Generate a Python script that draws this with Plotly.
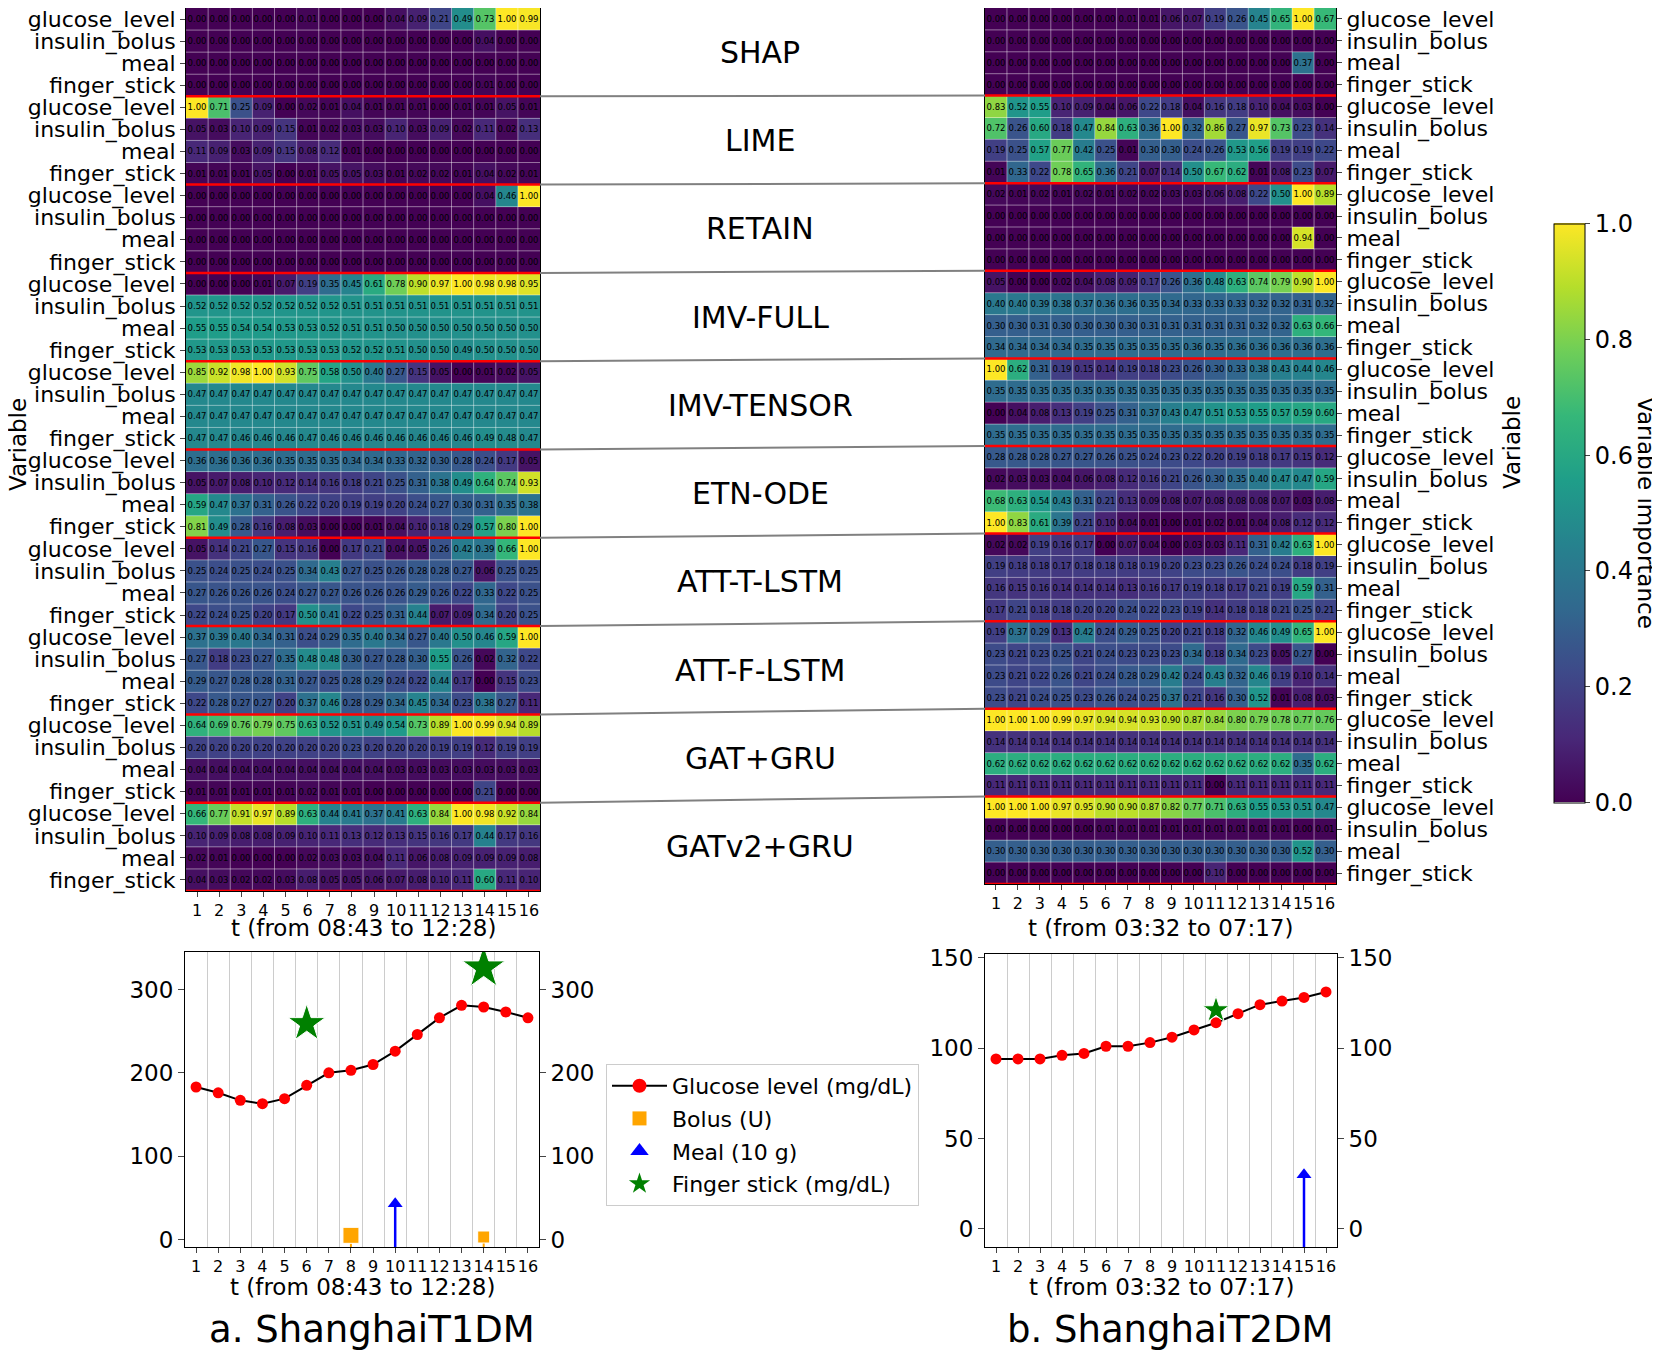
import plotly.graph_objects as go

W, H = 1660, 1351

# ==================== Data ====================
variables = ["glucose_level", "insulin_bolus", "meal", "finger_stick"]
methods = ["SHAP", "LIME", "RETAIN", "IMV-FULL", "IMV-TENSOR",
           "ETN-ODE", "ATT-T-LSTM", "ATT-F-LSTM", "GAT+GRU", "GATv2+GRU"]
steps = list(range(1, 17))

# ShanghaiT1DM variable importance, one block of 4 rows per method
t1_shap = [
    [0.00, 0.00, 0.00, 0.00, 0.00, 0.01, 0.00, 0.00, 0.00, 0.04, 0.09, 0.21, 0.49, 0.73, 1.00, 0.99],
    [0.00, 0.00, 0.00, 0.00, 0.00, 0.00, 0.00, 0.00, 0.00, 0.00, 0.00, 0.00, 0.00, 0.04, 0.00, 0.00],
    [0.00, 0.00, 0.00, 0.00, 0.00, 0.00, 0.00, 0.00, 0.00, 0.00, 0.00, 0.00, 0.00, 0.00, 0.00, 0.00],
    [0.00, 0.00, 0.00, 0.00, 0.00, 0.00, 0.00, 0.00, 0.00, 0.00, 0.00, 0.00, 0.00, 0.01, 0.00, 0.00],
]
t1_lime = [
    [1.00, 0.71, 0.25, 0.09, 0.00, 0.02, 0.01, 0.04, 0.01, 0.01, 0.01, 0.00, 0.01, 0.01, 0.05, 0.01],
    [0.05, 0.03, 0.10, 0.09, 0.15, 0.01, 0.02, 0.03, 0.03, 0.10, 0.03, 0.09, 0.02, 0.11, 0.02, 0.13],
    [0.11, 0.09, 0.03, 0.09, 0.15, 0.08, 0.12, 0.01, 0.00, 0.00, 0.00, 0.00, 0.00, 0.00, 0.00, 0.00],
    [0.01, 0.01, 0.01, 0.05, 0.00, 0.01, 0.05, 0.05, 0.03, 0.01, 0.02, 0.02, 0.01, 0.04, 0.02, 0.01],
]
t1_retain = [
    [0.00, 0.00, 0.00, 0.00, 0.00, 0.00, 0.00, 0.00, 0.00, 0.00, 0.00, 0.00, 0.00, 0.04, 0.46, 1.00],
    [0.00, 0.00, 0.00, 0.00, 0.00, 0.00, 0.00, 0.00, 0.00, 0.00, 0.00, 0.00, 0.00, 0.00, 0.00, 0.00],
    [0.00, 0.00, 0.00, 0.00, 0.00, 0.00, 0.00, 0.00, 0.00, 0.00, 0.00, 0.00, 0.00, 0.00, 0.00, 0.00],
    [0.00, 0.00, 0.00, 0.00, 0.00, 0.00, 0.00, 0.00, 0.00, 0.00, 0.00, 0.00, 0.00, 0.00, 0.00, 0.00],
]
t1_imv_full = [
    [0.00, 0.00, 0.00, 0.01, 0.07, 0.19, 0.35, 0.45, 0.61, 0.78, 0.90, 0.97, 1.00, 0.98, 0.98, 0.95],
    [0.52, 0.52, 0.52, 0.52, 0.52, 0.52, 0.52, 0.51, 0.51, 0.51, 0.51, 0.51, 0.51, 0.51, 0.51, 0.51],
    [0.55, 0.55, 0.54, 0.54, 0.53, 0.53, 0.52, 0.51, 0.51, 0.50, 0.50, 0.50, 0.50, 0.50, 0.50, 0.50],
    [0.53, 0.53, 0.53, 0.53, 0.53, 0.53, 0.53, 0.52, 0.52, 0.51, 0.50, 0.50, 0.49, 0.50, 0.50, 0.50],
]
t1_imv_tensor = [
    [0.85, 0.92, 0.98, 1.00, 0.93, 0.75, 0.58, 0.50, 0.40, 0.27, 0.15, 0.05, 0.00, 0.01, 0.02, 0.05],
    [0.47, 0.47, 0.47, 0.47, 0.47, 0.47, 0.47, 0.47, 0.47, 0.47, 0.47, 0.47, 0.47, 0.47, 0.47, 0.47],
    [0.47, 0.47, 0.47, 0.47, 0.47, 0.47, 0.47, 0.47, 0.47, 0.47, 0.47, 0.47, 0.47, 0.47, 0.47, 0.47],
    [0.47, 0.47, 0.46, 0.46, 0.46, 0.47, 0.46, 0.46, 0.46, 0.46, 0.46, 0.46, 0.46, 0.49, 0.48, 0.47],
]
t1_etn_ode = [
    [0.36, 0.36, 0.36, 0.36, 0.35, 0.35, 0.35, 0.34, 0.34, 0.33, 0.32, 0.30, 0.28, 0.24, 0.17, 0.05],
    [0.05, 0.07, 0.08, 0.10, 0.12, 0.14, 0.16, 0.18, 0.21, 0.25, 0.31, 0.38, 0.49, 0.64, 0.74, 0.93],
    [0.59, 0.47, 0.37, 0.31, 0.26, 0.22, 0.20, 0.19, 0.19, 0.20, 0.24, 0.27, 0.30, 0.31, 0.35, 0.38],
    [0.81, 0.49, 0.28, 0.16, 0.08, 0.03, 0.00, 0.00, 0.01, 0.04, 0.10, 0.18, 0.29, 0.57, 0.80, 1.00],
]
t1_att_t = [
    [0.05, 0.14, 0.21, 0.27, 0.15, 0.16, 0.00, 0.17, 0.21, 0.04, 0.05, 0.26, 0.42, 0.39, 0.66, 1.00],
    [0.25, 0.24, 0.25, 0.24, 0.25, 0.34, 0.43, 0.27, 0.25, 0.26, 0.28, 0.28, 0.27, 0.06, 0.25, 0.25],
    [0.27, 0.26, 0.26, 0.26, 0.24, 0.27, 0.27, 0.26, 0.26, 0.26, 0.29, 0.26, 0.22, 0.33, 0.22, 0.25],
    [0.22, 0.24, 0.25, 0.20, 0.17, 0.50, 0.41, 0.22, 0.25, 0.31, 0.44, 0.07, 0.09, 0.34, 0.20, 0.25],
]
t1_att_f = [
    [0.37, 0.39, 0.40, 0.34, 0.31, 0.24, 0.29, 0.35, 0.40, 0.34, 0.27, 0.40, 0.50, 0.46, 0.59, 1.00],
    [0.27, 0.18, 0.23, 0.27, 0.35, 0.48, 0.48, 0.30, 0.27, 0.28, 0.30, 0.55, 0.26, 0.02, 0.32, 0.22],
    [0.29, 0.27, 0.28, 0.28, 0.31, 0.27, 0.25, 0.28, 0.29, 0.24, 0.22, 0.44, 0.17, 0.00, 0.15, 0.23],
    [0.22, 0.28, 0.27, 0.27, 0.20, 0.37, 0.46, 0.28, 0.29, 0.34, 0.45, 0.34, 0.23, 0.38, 0.27, 0.11],
]
t1_gat = [
    [0.64, 0.69, 0.76, 0.79, 0.75, 0.63, 0.52, 0.51, 0.49, 0.54, 0.73, 0.89, 1.00, 0.99, 0.94, 0.89],
    [0.20, 0.20, 0.20, 0.20, 0.20, 0.20, 0.20, 0.23, 0.20, 0.20, 0.20, 0.19, 0.19, 0.12, 0.19, 0.19],
    [0.04, 0.04, 0.04, 0.04, 0.04, 0.04, 0.04, 0.04, 0.04, 0.03, 0.03, 0.03, 0.03, 0.03, 0.03, 0.03],
    [0.01, 0.01, 0.01, 0.01, 0.01, 0.02, 0.01, 0.01, 0.00, 0.00, 0.00, 0.00, 0.00, 0.21, 0.00, 0.00],
]
t1_gatv2 = [
    [0.66, 0.77, 0.91, 0.97, 0.89, 0.63, 0.44, 0.41, 0.37, 0.41, 0.63, 0.84, 1.00, 0.98, 0.92, 0.84],
    [0.10, 0.09, 0.08, 0.08, 0.09, 0.10, 0.11, 0.13, 0.12, 0.13, 0.15, 0.16, 0.17, 0.44, 0.17, 0.16],
    [0.02, 0.01, 0.00, 0.00, 0.00, 0.02, 0.03, 0.03, 0.04, 0.11, 0.06, 0.08, 0.09, 0.09, 0.09, 0.08],
    [0.04, 0.03, 0.02, 0.02, 0.03, 0.08, 0.05, 0.05, 0.06, 0.07, 0.08, 0.10, 0.11, 0.60, 0.11, 0.10],
]

# ShanghaiT2DM variable importance
t2_shap = [
    [0.00, 0.00, 0.00, 0.00, 0.00, 0.00, 0.01, 0.01, 0.06, 0.07, 0.19, 0.26, 0.45, 0.65, 1.00, 0.67],
    [0.00, 0.00, 0.00, 0.00, 0.00, 0.00, 0.00, 0.00, 0.00, 0.00, 0.00, 0.00, 0.00, 0.00, 0.00, 0.00],
    [0.00, 0.00, 0.00, 0.00, 0.00, 0.00, 0.00, 0.00, 0.00, 0.00, 0.00, 0.00, 0.00, 0.00, 0.37, 0.00],
    [0.00, 0.00, 0.00, 0.00, 0.00, 0.00, 0.00, 0.00, 0.00, 0.00, 0.00, 0.00, 0.00, 0.00, 0.00, 0.00],
]
t2_lime = [
    [0.83, 0.52, 0.55, 0.10, 0.09, 0.04, 0.06, 0.22, 0.18, 0.04, 0.16, 0.18, 0.10, 0.04, 0.03, 0.00],
    [0.72, 0.26, 0.60, 0.18, 0.47, 0.84, 0.63, 0.36, 1.00, 0.32, 0.86, 0.27, 0.97, 0.73, 0.23, 0.14],
    [0.19, 0.25, 0.57, 0.77, 0.42, 0.25, 0.01, 0.30, 0.30, 0.24, 0.26, 0.53, 0.56, 0.19, 0.19, 0.22],
    [0.01, 0.33, 0.22, 0.78, 0.65, 0.36, 0.21, 0.07, 0.14, 0.50, 0.67, 0.62, 0.01, 0.08, 0.23, 0.07],
]
t2_retain = [
    [0.02, 0.01, 0.02, 0.01, 0.02, 0.01, 0.02, 0.02, 0.03, 0.03, 0.06, 0.08, 0.22, 0.50, 1.00, 0.89],
    [0.00, 0.00, 0.00, 0.00, 0.00, 0.00, 0.00, 0.00, 0.00, 0.00, 0.00, 0.00, 0.00, 0.00, 0.00, 0.00],
    [0.00, 0.00, 0.00, 0.00, 0.00, 0.00, 0.00, 0.00, 0.00, 0.00, 0.00, 0.00, 0.00, 0.00, 0.94, 0.00],
    [0.00, 0.00, 0.00, 0.00, 0.00, 0.00, 0.00, 0.00, 0.00, 0.00, 0.00, 0.00, 0.00, 0.00, 0.00, 0.00],
]
t2_imv_full = [
    [0.05, 0.00, 0.00, 0.02, 0.04, 0.08, 0.09, 0.17, 0.26, 0.36, 0.48, 0.63, 0.74, 0.79, 0.90, 1.00],
    [0.40, 0.40, 0.39, 0.38, 0.37, 0.36, 0.36, 0.35, 0.34, 0.33, 0.33, 0.33, 0.32, 0.32, 0.31, 0.32],
    [0.30, 0.30, 0.31, 0.30, 0.30, 0.30, 0.30, 0.31, 0.31, 0.31, 0.31, 0.31, 0.32, 0.32, 0.63, 0.66],
    [0.34, 0.34, 0.34, 0.34, 0.35, 0.35, 0.35, 0.35, 0.35, 0.36, 0.35, 0.36, 0.36, 0.36, 0.36, 0.36],
]
t2_imv_tensor = [
    [1.00, 0.62, 0.31, 0.19, 0.15, 0.14, 0.19, 0.18, 0.23, 0.26, 0.30, 0.33, 0.38, 0.43, 0.44, 0.46],
    [0.35, 0.35, 0.35, 0.35, 0.35, 0.35, 0.35, 0.35, 0.35, 0.35, 0.35, 0.35, 0.35, 0.35, 0.35, 0.35],
    [0.00, 0.04, 0.08, 0.13, 0.19, 0.25, 0.31, 0.37, 0.43, 0.47, 0.51, 0.53, 0.55, 0.57, 0.59, 0.60],
    [0.35, 0.35, 0.35, 0.35, 0.35, 0.35, 0.35, 0.35, 0.35, 0.35, 0.35, 0.35, 0.35, 0.35, 0.35, 0.35],
]
t2_etn_ode = [
    [0.28, 0.28, 0.28, 0.27, 0.27, 0.26, 0.25, 0.24, 0.23, 0.22, 0.20, 0.19, 0.18, 0.17, 0.15, 0.12],
    [0.02, 0.03, 0.03, 0.04, 0.06, 0.08, 0.12, 0.16, 0.21, 0.26, 0.30, 0.35, 0.40, 0.47, 0.47, 0.59],
    [0.68, 0.63, 0.54, 0.43, 0.31, 0.21, 0.13, 0.09, 0.08, 0.07, 0.08, 0.08, 0.08, 0.07, 0.03, 0.08],
    [1.00, 0.83, 0.61, 0.39, 0.21, 0.10, 0.04, 0.01, 0.00, 0.01, 0.02, 0.01, 0.04, 0.08, 0.12, 0.12],
]
t2_att_t = [
    [0.02, 0.02, 0.19, 0.16, 0.17, 0.00, 0.07, 0.04, 0.00, 0.03, 0.03, 0.11, 0.31, 0.42, 0.63, 1.00],
    [0.19, 0.18, 0.18, 0.17, 0.18, 0.18, 0.18, 0.19, 0.20, 0.23, 0.23, 0.26, 0.24, 0.24, 0.18, 0.19],
    [0.16, 0.15, 0.16, 0.14, 0.14, 0.14, 0.13, 0.16, 0.17, 0.19, 0.18, 0.17, 0.21, 0.19, 0.59, 0.31],
    [0.17, 0.21, 0.18, 0.18, 0.20, 0.20, 0.24, 0.22, 0.23, 0.19, 0.14, 0.18, 0.18, 0.21, 0.25, 0.21],
]
t2_att_f = [
    [0.19, 0.37, 0.29, 0.13, 0.42, 0.24, 0.29, 0.25, 0.20, 0.21, 0.18, 0.32, 0.46, 0.49, 0.65, 1.00],
    [0.23, 0.21, 0.23, 0.25, 0.21, 0.24, 0.23, 0.23, 0.23, 0.34, 0.18, 0.34, 0.23, 0.05, 0.27, 0.00],
    [0.23, 0.21, 0.22, 0.26, 0.21, 0.24, 0.28, 0.29, 0.42, 0.24, 0.43, 0.32, 0.46, 0.19, 0.10, 0.14],
    [0.23, 0.21, 0.24, 0.25, 0.23, 0.26, 0.24, 0.25, 0.37, 0.21, 0.16, 0.30, 0.52, 0.01, 0.08, 0.03],
]
t2_gat = [
    [1.00, 1.00, 1.00, 0.99, 0.97, 0.94, 0.94, 0.93, 0.90, 0.87, 0.84, 0.80, 0.79, 0.78, 0.77, 0.76],
    [0.14, 0.14, 0.14, 0.14, 0.14, 0.14, 0.14, 0.14, 0.14, 0.14, 0.14, 0.14, 0.14, 0.14, 0.14, 0.14],
    [0.62, 0.62, 0.62, 0.62, 0.62, 0.62, 0.62, 0.62, 0.62, 0.62, 0.62, 0.62, 0.62, 0.62, 0.35, 0.62],
    [0.11, 0.11, 0.11, 0.11, 0.11, 0.11, 0.11, 0.11, 0.11, 0.11, 0.00, 0.11, 0.11, 0.11, 0.11, 0.11],
]
t2_gatv2 = [
    [1.00, 1.00, 1.00, 0.97, 0.95, 0.90, 0.90, 0.87, 0.82, 0.77, 0.71, 0.63, 0.55, 0.53, 0.51, 0.47],
    [0.00, 0.00, 0.00, 0.00, 0.00, 0.01, 0.01, 0.01, 0.01, 0.01, 0.01, 0.01, 0.01, 0.01, 0.00, 0.01],
    [0.30, 0.30, 0.30, 0.30, 0.30, 0.30, 0.30, 0.30, 0.30, 0.30, 0.30, 0.30, 0.30, 0.30, 0.52, 0.30],
    [0.00, 0.00, 0.00, 0.00, 0.00, 0.00, 0.00, 0.00, 0.00, 0.00, 0.10, 0.00, 0.00, 0.00, 0.00, 0.00],
]

# Raw signals for the two example windows
t1_glucose = [183, 176, 167, 163, 169, 185, 200, 203, 210, 226, 246, 266, 281, 279, 273, 266]
t1_bolus_t = [8, 14]
t1_bolus = [5, 3]
t1_meal_t = [10]
t1_meal = [43]
t1_finger_t = [6, 14]
t1_finger = [259, 326]

t2_glucose = [94, 94, 94, 96, 97, 101, 101, 103, 106, 110, 114, 119, 124, 126, 128, 131]
t2_bolus_t = []
t2_bolus = []
t2_meal_t = [15]
t2_meal = [30]
t2_finger_t = [11]
t2_finger = [121]

t1_blocks = [t1_shap, t1_lime, t1_retain, t1_imv_full, t1_imv_tensor,
             t1_etn_ode, t1_att_t, t1_att_f, t1_gat, t1_gatv2]
t2_blocks = [t2_shap, t2_lime, t2_retain, t2_imv_full, t2_imv_tensor,
             t2_etn_ode, t2_att_t, t2_att_f, t2_gat, t2_gatv2]
t1_z = [row for block in t1_blocks for row in block]
t2_z = [row for block in t2_blocks for row in block]
n_rows = len(t1_z)

# the page body adds an 8px margin, so positions are shifted back by that much
OFF = 8


def px_x(v):
    return max(0.0, (v - OFF) / W)


def px_y(v):
    return min(1.0, 1 - (v - OFF) / H)


# ==================== Panel positions ====================
hm1_x = [px_x(186), px_x(540)]
hm1_y = [px_y(891), px_y(6)]
hm2_x = [px_x(985), px_x(1336)]
hm2_y = [px_y(884), px_y(6)]
ln1_x = [px_x(185), px_x(539)]
ln1_y = [px_y(1247), px_y(952)]
ln2_x = [px_x(985), px_x(1337)]
ln2_y = [px_y(1247), px_y(954)]
ln1_range = [-9, 345]
ln2_range = [-10, 152]

FONT = "DejaVu Sans"
fig = go.Figure()

# ==================== Heatmaps ====================
fig.add_trace(go.Heatmap(
    z=t1_z, x=steps, y=list(range(n_rows)),
    colorscale="Viridis", zmin=0, zmax=1, showscale=False,
    texttemplate="%{z:.2f}", textfont=dict(size=8.5, color="black", family=FONT),
    hoverinfo="skip", xaxis="x", yaxis="y"
))
fig.add_trace(go.Heatmap(
    z=t2_z, x=steps, y=list(range(n_rows)),
    colorscale="Viridis", zmin=0, zmax=1,
    texttemplate="%{z:.2f}", textfont=dict(size=8.5, color="black", family=FONT),
    hoverinfo="skip", xaxis="x2", yaxis="y2",
    colorbar=dict(
        x=px_x(1554), xanchor="left", y=px_y(513), yanchor="middle",
        len=599 / H, lenmode="fraction", thickness=31, ypad=10, xpad=0,
        tickvals=[0, 0.2, 0.4, 0.6, 0.8, 1.0],
        ticktext=["0.0", "0.2", "0.4", "0.6", "0.8", "1.0"],
        ticks="outside", ticklen=5, tickfont=dict(size=24, family=FONT),
        outlinewidth=1, outlinecolor="black"
    )
))


# ==================== Line charts ====================
def stems(xs, ys, base):
    sx, sy = [], []
    for xv, yv in zip(xs, ys):
        sx += [xv, xv, None]
        sy += [base, yv, None]
    return sx, sy


def add_signal(glucose, bolus_t, bolus, meal_t, meal, finger_t, finger,
               xa, ya, ya_right, base, bolus_sizes, star_sizes):
    bx, by = stems(bolus_t, bolus, base)
    fig.add_trace(go.Scatter(x=bx, y=by, mode="lines", line=dict(color="orange", width=2),
                             showlegend=False, hoverinfo="skip", xaxis=xa, yaxis=ya))
    mx, my = stems(meal_t, meal, base)
    fig.add_trace(go.Scatter(x=mx, y=my, mode="lines", line=dict(color="blue", width=2.5),
                             showlegend=False, hoverinfo="skip", xaxis=xa, yaxis=ya))
    fig.add_trace(go.Scatter(
        x=steps, y=glucose, mode="lines+markers",
        line=dict(color="black", width=2), marker=dict(color="red", size=11),
        showlegend=False, xaxis=xa, yaxis=ya))
    fig.add_trace(go.Scatter(
        x=bolus_t, y=bolus, mode="markers",
        marker=dict(symbol="square", color="orange", size=bolus_sizes, opacity=1),
        showlegend=False, xaxis=xa, yaxis=ya))
    fig.add_trace(go.Scatter(
        x=meal_t, y=meal, mode="markers",
        marker=dict(symbol="triangle-up", color="blue", size=13, opacity=1),
        showlegend=False, xaxis=xa, yaxis=ya))
    fig.add_trace(go.Scatter(
        x=finger_t, y=finger, mode="markers",
        marker=dict(symbol="star", color="green", size=star_sizes, opacity=1),
        showlegend=False, xaxis=xa, yaxis=ya))
    # twin axis on the right
    fig.add_trace(go.Scatter(x=steps, y=glucose, mode="markers", marker=dict(opacity=0),
                             showlegend=False, hoverinfo="skip", xaxis=xa, yaxis=ya_right))


add_signal(t1_glucose, t1_bolus_t, t1_bolus, t1_meal_t, t1_meal, t1_finger_t, t1_finger,
           "x3", "y3", "y4", ln1_range[0], [16, 12], [28, 32])
add_signal(t2_glucose, t2_bolus_t, t2_bolus, t2_meal_t, t2_meal, t2_finger_t, t2_finger,
           "x4", "y5", "y6", ln2_range[0], [12], [20])

# legend entries
legend_items = [
    ("Glucose level (mg/dL)", "lines+markers", dict(color="red", size=14, symbol="circle")),
    ("Bolus (U)", "markers", dict(color="orange", size=14, symbol="square")),
    ("Meal (10 g)", "markers", dict(color="blue", size=16, symbol="triangle-up")),
    ("Finger stick (mg/dL)", "markers", dict(color="green", size=16, symbol="star")),
]
for name, mode, mk in legend_items:
    fig.add_trace(go.Scatter(x=[None], y=[None], mode=mode, name=name, marker=mk,
                             legendgroup=name, line=dict(color="black", width=2),
                             xaxis="x3", yaxis="y3"))

# ==================== Shapes ====================
shapes = []
for xa, ya in (("x", "y"), ("x2", "y2")):
    for k in range(1, len(steps)):
        shapes.append(dict(type="line", xref=xa, yref=ya, x0=k + 0.5, x1=k + 0.5,
                           y0=-0.5, y1=n_rows - 0.5, layer="above",
                           line=dict(color="rgba(255,255,255,0.45)", width=1)))
    for r in range(n_rows - 1):
        shapes.append(dict(type="line", xref=xa, yref=ya, x0=0.5, x1=len(steps) + 0.5,
                           y0=r + 0.5, y1=r + 0.5, layer="above",
                           line=dict(color="rgba(255,255,255,0.45)", width=1)))
    for g in range(1, len(methods) + 1):
        b = g * len(variables) - 0.5
        shapes.append(dict(type="line", xref=xa, yref=ya, x0=0.5, x1=len(steps) + 0.5,
                           y0=b, y1=b, layer="above", line=dict(color="red", width=2.5)))


def row_paper(dom, pos):
    return dom[1] - (pos + 0.5) / n_rows * (dom[1] - dom[0])


for g in range(1, len(methods)):
    b = g * len(variables) - 0.5
    shapes.append(dict(type="line", xref="paper", yref="paper",
                       x0=hm1_x[1], x1=hm2_x[0],
                       y0=row_paper(hm1_y, b), y1=row_paper(hm2_y, b),
                       line=dict(color="gray", width=2)))


# ==================== Annotations ====================
def label(text, x, y, size, angle=0):
    return dict(text=text, xref="paper", yref="paper", x=x, y=y, xanchor="center",
                yanchor="middle", textangle=angle, showarrow=False, font=dict(size=size))


annotations = [label(name, px_x(760), row_paper(hm1_y, g * 4 + 1.5), 30)
               for g, name in enumerate(methods)]
annotations += [
    label("Variable", 10 / W, px_y(445), 23, -90),
    label("Variable", px_x(1512), px_y(443), 23, -90),
    label("Variable importance", px_x(1646), px_y(513), 23, 90),
    label("t (from 08:43 to 12:28)", px_x(363), px_y(928), 23),
    label("t (from 03:32 to 07:17)", px_x(1160), px_y(928), 23),
    label("t (from 08:43 to 12:28)", px_x(362), px_y(1287), 23),
    label("t (from 03:32 to 07:17)", px_x(1161), px_y(1287), 23),
    label("a. ShanghaiT1DM", px_x(372), px_y(1329), 37),
    label("b. ShanghaiT2DM", px_x(1170), px_y(1329), 37),
]

# ==================== Layout Settings ====================
heat_x = dict(range=[0.5, 16.5], tickmode="array", tickvals=steps, ticks="outside", ticklen=5,
              tickangle=0, tickfont=dict(size=16), showline=True, mirror=True,
              linecolor="black", showgrid=False, zeroline=False, automargin=False)
heat_y = dict(range=[n_rows - 0.5, -0.5], tickmode="array", tickvals=list(range(n_rows)),
              ticktext=variables * len(methods), ticks="outside", ticklen=5,
              tickfont=dict(size=22), showline=True, mirror=True, linecolor="black",
              showgrid=False, zeroline=False, automargin=False, ticklabeloverflow="allow")
line_x = dict(range=[0.5, 16.5], tickmode="array", tickvals=steps, ticks="outside", ticklen=5,
              tickangle=0, tickfont=dict(size=16), showline=True, mirror=True,
              linecolor="black", showgrid=False, zeroline=False, automargin=False,
              minor=dict(tick0=0.5, dtick=1, showgrid=True, gridcolor="#cccccc", gridwidth=1))


def line_y(rng, vals, **kw):
    d = dict(range=rng, tickmode="array", tickvals=vals, ticks="outside", ticklen=6,
             tickfont=dict(size=23), showline=True, linecolor="black",
             showgrid=False, zeroline=False, automargin=False)
    d.update(kw)
    return d


fig.update_layout(
    width=W, height=H, autosize=False,
    margin=dict(l=0, r=0, t=0, b=0, pad=0),
    paper_bgcolor="white", plot_bgcolor="white",
    font=dict(family=FONT, color="black"),
    xaxis=dict(heat_x, domain=hm1_x, anchor="y"),
    yaxis=dict(heat_y, domain=hm1_y, anchor="x"),
    xaxis2=dict(heat_x, domain=hm2_x, anchor="y2"),
    yaxis2=dict(heat_y, domain=hm2_y, anchor="x2", side="right"),
    xaxis3=dict(line_x, domain=ln1_x, anchor="y3"),
    yaxis3=line_y(ln1_range, [0, 100, 200, 300], domain=ln1_y, anchor="x3", mirror=True),
    yaxis4=line_y(ln1_range, [0, 100, 200, 300], overlaying="y3", anchor="x3", side="right"),
    xaxis4=dict(line_x, domain=ln2_x, anchor="y5"),
    yaxis5=line_y(ln2_range, [0, 50, 100, 150], domain=ln2_y, anchor="x4", mirror=True),
    yaxis6=line_y(ln2_range, [0, 50, 100, 150], overlaying="y5", anchor="x4", side="right"),
    legend=dict(x=px_x(606), y=px_y(1064), xanchor="left", yanchor="top",
                bgcolor="white", bordercolor="#cccccc", borderwidth=1,
                font=dict(size=22), itemwidth=55, tracegroupgap=1,
                traceorder="grouped"),
    shapes=shapes,
    annotations=annotations,
)

fig.write_html("out.html")
